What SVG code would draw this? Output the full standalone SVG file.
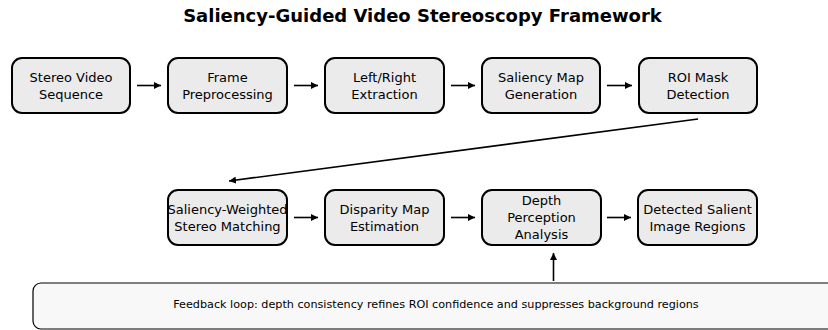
<svg xmlns="http://www.w3.org/2000/svg" width="828" height="330" viewBox="0 0 828 330">
  <defs>
    <marker id="arrow" viewBox="0 0 10 10" refX="10" refY="5" markerWidth="7" markerHeight="7" markerUnits="userSpaceOnUse" orient="auto">
      <path d="M0,0 L10,5 L0,10 z" fill="#000"/>
    </marker>
    <style>
      .title { font-family: "DejaVu Sans", sans-serif; font-size: 18px; font-weight: bold; fill: #000; text-anchor: middle; }
      .box { fill: #ebebeb; stroke: #000; stroke-width: 2; }
      .lbl { font-family: "DejaVu Sans", sans-serif; font-size: 13px; fill: #000; text-anchor: middle; }
      .note { fill: #f8f8f8; stroke: #000; stroke-width: 1.2; }
      .notetxt { font-family: "DejaVu Sans", sans-serif; font-size: 11.2px; fill: #000; text-anchor: middle; }
      .conn { stroke: #000; stroke-width: 1.6; fill: none; marker-end: url(#arrow); }
    </style>
  </defs>

  <rect width="828" height="330" fill="#fff"/>
  <text class="title" x="422.5" y="22">Saliency-Guided Video Stereoscopy Framework</text>

  <!-- top row -->
  <g id="stereo-video">
    <rect class="box" x="12" y="58" width="118" height="55" rx="10"/>
    <text class="lbl" x="71" y="82">Stereo Video</text>
    <text class="lbl" x="71" y="99">Sequence</text>
  </g>
  <g id="frame-preprocessing">
    <rect class="box" x="168" y="58" width="119" height="55" rx="10"/>
    <text class="lbl" x="227.5" y="82">Frame</text>
    <text class="lbl" x="227.5" y="99">Preprocessing</text>
  </g>
  <g id="left-right-extraction">
    <rect class="box" x="325" y="58" width="119" height="55" rx="10"/>
    <text class="lbl" x="384.5" y="82">Left/Right</text>
    <text class="lbl" x="384.5" y="99">Extraction</text>
  </g>
  <g id="saliency-map">
    <rect class="box" x="482" y="58" width="118" height="55" rx="10"/>
    <text class="lbl" x="541" y="82">Saliency Map</text>
    <text class="lbl" x="541" y="99">Generation</text>
  </g>
  <g id="roi-mask">
    <rect class="box" x="639" y="58" width="118" height="55" rx="10"/>
    <text class="lbl" x="698" y="82">ROI Mask</text>
    <text class="lbl" x="698" y="99">Detection</text>
  </g>

  <!-- bottom row -->
  <g id="stereo-matching">
    <rect class="box" x="168" y="190" width="119" height="55" rx="10"/>
    <text class="lbl" x="227.5" y="214">Saliency-Weighted</text>
    <text class="lbl" x="227.5" y="231">Stereo Matching</text>
  </g>
  <g id="disparity-map">
    <rect class="box" x="325" y="190" width="119" height="55" rx="10"/>
    <text class="lbl" x="384.5" y="214">Disparity Map</text>
    <text class="lbl" x="384.5" y="231">Estimation</text>
  </g>
  <g id="depth-perception">
    <rect class="box" x="482" y="190" width="119" height="55" rx="10"/>
    <text class="lbl" x="541.5" y="205">Depth</text>
    <text class="lbl" x="541.5" y="222">Perception</text>
    <text class="lbl" x="541.5" y="239">Analysis</text>
  </g>
  <g id="salient-regions">
    <rect class="box" x="638" y="190" width="119" height="55" rx="10"/>
    <text class="lbl" x="697.5" y="214">Detected Salient</text>
    <text class="lbl" x="697.5" y="231">Image Regions</text>
  </g>

  <!-- feedback note -->
  <g id="feedback-note">
    <rect class="note" x="33" y="283" width="820" height="46" rx="8"/>
    <text class="notetxt" x="436" y="308">Feedback loop: depth consistency refines ROI confidence and suppresses background regions</text>
  </g>

  <!-- connectors -->
  <g id="connectors">
    <line class="conn" x1="137" y1="85.5" x2="161" y2="85.5"/>
    <line class="conn" x1="294" y1="85.5" x2="318" y2="85.5"/>
    <line class="conn" x1="451" y1="85.5" x2="475" y2="85.5"/>
    <line class="conn" x1="607" y1="85.5" x2="632" y2="85.5"/>
    <line class="conn" x1="698" y1="119" x2="229" y2="181"/>
    <line class="conn" x1="294" y1="217.5" x2="318" y2="217.5"/>
    <line class="conn" x1="451" y1="217.5" x2="475" y2="217.5"/>
    <line class="conn" x1="607" y1="217.5" x2="631" y2="217.5"/>
    <line class="conn" x1="553.5" y1="281" x2="553.5" y2="253"/>
  </g>
</svg>
